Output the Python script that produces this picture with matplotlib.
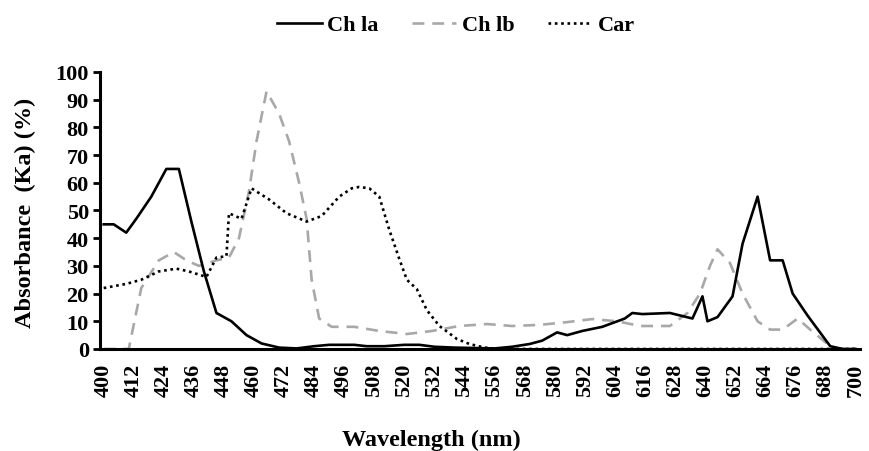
import matplotlib
matplotlib.use("Agg")
import matplotlib.pyplot as plt

# Data (wavelength nm, absorbance %)
chla_wl = [400, 404, 409, 413, 419, 425, 430, 435, 440, 445, 451, 457, 463, 470, 477,
           484, 490, 500, 505, 512, 520, 526, 532, 540, 556, 563, 570, 575, 581, 585,
           591, 599, 605, 608, 611, 615, 626, 635, 639, 641, 645, 651, 655, 661, 666,
           671, 675, 681, 690, 695, 700]
chla_val = [45, 45, 42, 47, 55, 65, 65, 46, 28, 13, 10, 5, 2, 0.5, 0.2,
            1, 1.5, 1.5, 1, 1, 1.5, 1.5, 0.8, 0.5, 0.2, 0.8, 1.8, 3, 6, 5,
            6.5, 8, 10, 11, 13, 12.6, 13, 11, 19, 10, 11.5, 19, 38, 55, 32,
            32, 20, 12, 1, 0, 0]

chlb_wl = [400, 410, 415, 422, 428, 433, 438, 445, 450, 454, 458, 461, 465, 470, 474,
           478, 481, 483, 486, 491, 500, 510, 521, 531, 542, 553, 563, 574, 585, 595,
           605, 614, 626, 633, 638, 642, 645, 650, 655, 661, 666, 671, 677, 682, 690,
           692, 700]
chlb_val = [0, 0, 22, 32, 35, 32, 30, 32, 33, 40, 57, 75, 93, 85, 75,
            60, 47, 25, 11, 8, 8, 6.5, 5.4, 6.5, 8.3, 9, 8.3, 8.7, 9.7, 10.8,
            10, 8.3, 8.3, 13, 20, 30, 36, 31, 20, 10, 7, 7, 11, 7, 1,
            0, 0]

car_wl = [400, 409, 415, 422, 429, 434, 441, 445, 449, 450, 455, 459, 466, 473, 481,
          487, 494, 499, 502, 506, 510, 514, 518, 521, 525, 529, 534, 541, 546, 552,
          558, 700]
car_val = [22, 23.5, 25, 28, 29, 28, 26, 33, 33.5, 49, 47, 58, 54, 49, 46,
           48, 55, 58, 58.5, 58, 55, 43, 32.5, 25, 21.6, 14, 8.3, 3.6, 1.8, 0.5,
           0, 0]

xticks = list(range(400, 701, 12))
yticks = list(range(0, 101, 10))
labels = ["Ch la", "Ch lb", "Car"]

plt.rcParams['font.family'] = ['Liberation Serif', 'DejaVu Serif']
plt.rcParams['font.weight'] = 'bold'

fig = plt.figure(figsize=(8.69, 4.52), dpi=100)
ax = fig.add_axes([0.115, 0.2257, 0.875, 0.6128])

ax.plot(chla_wl, chla_val, color='black', lw=1.9, label=labels[0], zorder=2.3)
ax.plot(chlb_wl, chlb_val, color='#a8a8a8', lw=1.9, ls=(0, (4.5, 3)), label=labels[1], zorder=2.1)
ax.plot(car_wl, car_val, color='black', lw=1.9, ls=(0, (1, 1.4)), label=labels[2], zorder=2.2)

ax.set_xlim(398.5, 702)
ax.set_ylim(0, 100)
ax.set_xticks(xticks)
ax.set_xticklabels([str(t) for t in xticks], rotation=90, fontsize=16, fontweight='bold')
ax.set_yticks(yticks)
ax.set_yticklabels([str(t) for t in yticks], fontsize=16, fontweight='bold')
ax.tick_params(axis='x', length=0, pad=10)
ax.tick_params(axis='y', length=5, width=2, direction='out', pad=3)

for s in ['top', 'right']:
    ax.spines[s].set_visible(False)
for s in ['left', 'bottom']:
    ax.spines[s].set_linewidth(2.2)

fig.text(25 / 869, 1 - 213 / 452, "Absorbance  (Ka) (%)", fontsize=17.5, fontweight='bold',
         ha='center', va='center', rotation=90)
fig.text(431 / 869, 1 - 440 / 452, "Wavelength (nm)", fontsize=17.5, fontweight='bold',
         ha='center', va='center')

leg = fig.legend(loc='center', bbox_to_anchor=(456 / 869, 1 - 26 / 452), ncol=3,
                 frameon=False, handlelength=2.0, handletextpad=0.25,
                 columnspacing=1.5, prop={'weight': 'bold', 'size': 16})

fig.savefig("out.png", dpi=100)
